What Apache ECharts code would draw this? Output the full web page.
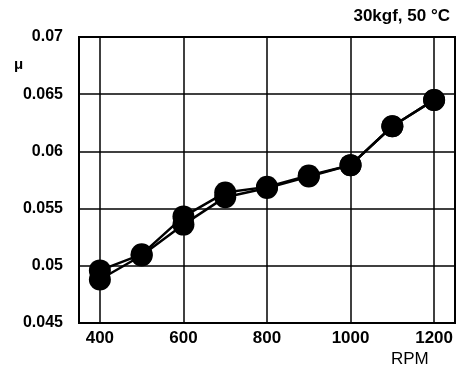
<!DOCTYPE html>
<html><head><meta charset="utf-8">
<script src="https://cdn.jsdelivr.net/npm/echarts@6/dist/echarts.min.js"></script>
<style>html,body{margin:0;padding:0;background:#fff}#c{width:457px;height:371px}</style>
</head><body><div id="c"></div>
<script>
const rpm = [400, 500, 600, 700, 800, 900, 1000, 1100, 1200];
const muA = [0.0496, 0.0510, 0.0543, 0.0564, 0.0569, 0.0579, 0.0588, 0.0622, 0.0645];
const muB = [0.0488, 0.0509, 0.0536, 0.0560, 0.0568, 0.0578, 0.0588, 0.0622, 0.0645];
const yTicks = [0.045, 0.05, 0.055, 0.06, 0.065, 0.07];
const titleText = '30kgf, 50 °C';
const font = 'Liberation Sans, Arial, sans-serif';

const chart = echarts.init(document.getElementById('c'));
const mk = (vals) => ({
  type: 'line', data: rpm.map((r, i) => [r, vals[i]]),
  symbol: 'circle', symbolSize: 22,
  lineStyle: { color: '#000', width: 2.5 },
  itemStyle: { color: '#000' },
  animation: false, z: 5
});
chart.setOption({
  animation: false,
  title: [
    { text: titleText, right: 2, top: 3, textStyle: { fontFamily: font, fontSize: 17, fontWeight: 'bold', color: '#000' } },
    { text: 'μ', left: 9, top: 52, textStyle: { fontFamily: font, fontSize: 15, fontWeight: 'bold', color: '#000' } },
    { text: 'RPM', left: 386, top: 346, textStyle: { fontFamily: font, fontSize: 17, fontWeight: 'normal', color: '#000' } }
  ],
  grid: { left: 79, right: 2, top: 37, bottom: 48, show: true, borderColor: '#000', borderWidth: 2, backgroundColor: '#fff' },
  xAxis: {
    type: 'value', min: 350, max: 1250, splitNumber: 5,
    axisLine: { show: false },
    axisTick: { show: false },
    axisLabel: { showMinLabel: false, showMaxLabel: false, color: '#000', fontFamily: font, fontSize: 17, fontWeight: 'bold', margin: 7,
      formatter: v => String(v) },
    splitLine: { show: true, lineStyle: { color: '#000', width: 1.5 } }
  },
  yAxis: {
    type: 'value', min: yTicks[0], max: yTicks[yTicks.length - 1], interval: 0.005,
    axisLine: { show: false },
    axisTick: { show: false },
    axisLabel: { color: '#000', fontFamily: font, fontSize: 16, fontWeight: 'bold', margin: 16,
      formatter: v => String(+v.toFixed(3)) },
    splitLine: { show: true, lineStyle: { color: '#000', width: 1.5 } }
  },
  series: [mk(muA), mk(muB)]
});
</script></body></html>
